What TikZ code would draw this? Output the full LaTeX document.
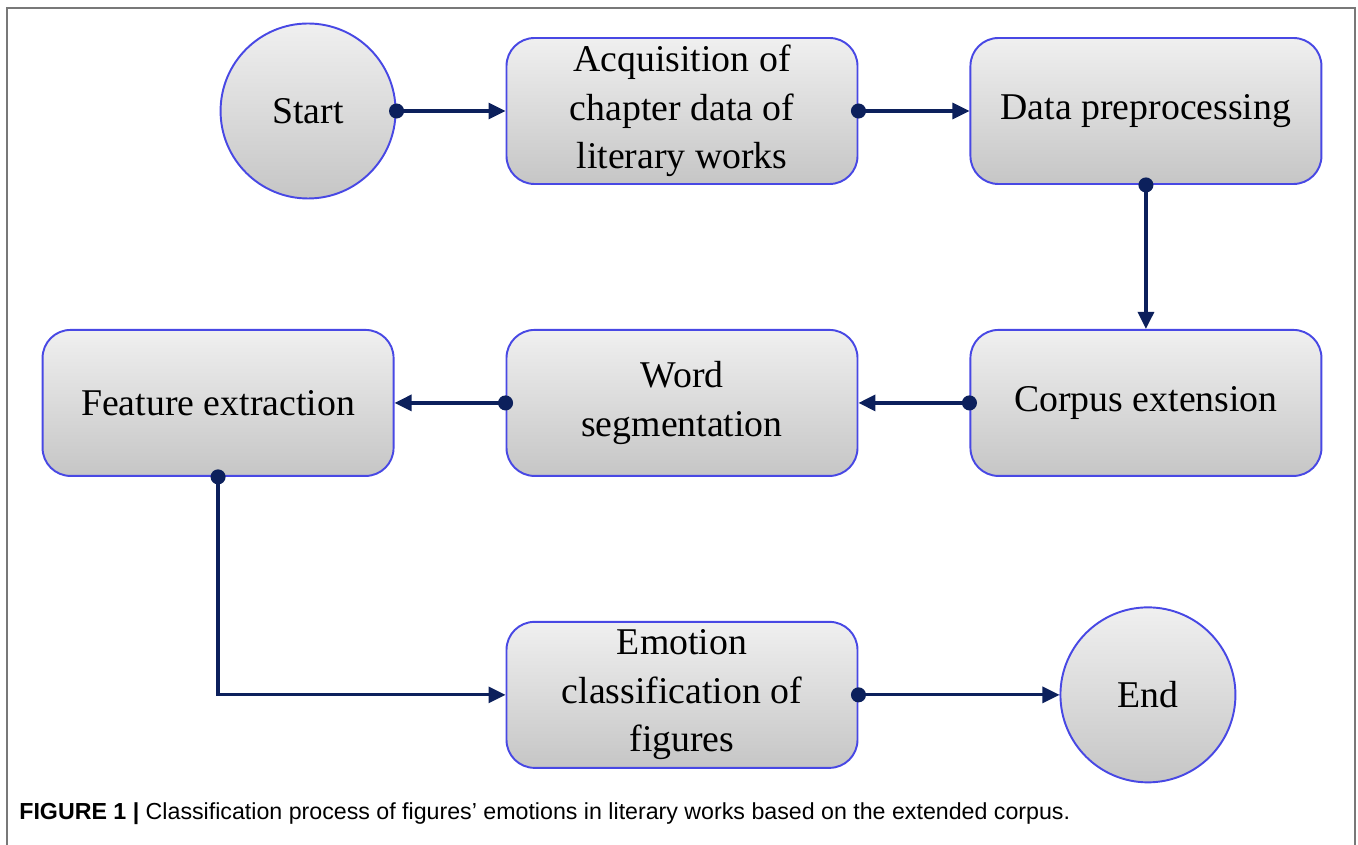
\documentclass[tikz,border=0pt]{standalone}
\usepackage{fontspec}
\setmainfont{Liberation Serif}
\newfontfamily\capfont{Liberation Sans}
\usepackage{xcolor}
\usepackage{tikz}
\usetikzlibrary{positioning, arrows.meta}

\definecolor{navyline}{RGB}{12,32,92}
\definecolor{boxblue}{RGB}{72,72,228}
\definecolor{framegray}{RGB}{120,120,120}

\begin{document}
\begin{tikzpicture}[
    node distance=2.22cm,
    box/.style={rectangle, draw=boxblue, line width=1.1pt, rounded corners=0.56cm, top color=gray!12, bottom color=gray!45, align=center, minimum width=7.02cm, minimum height=2.92cm, inner sep=2pt, font=\fontsize{21.5}{27.5}\selectfont},
    term/.style={circle, draw=boxblue, line width=1.1pt, top color=gray!12, bottom color=gray!45, minimum size=3.5cm, inner sep=0pt, font=\fontsize{21.5}{27.5}\selectfont},
    link/.style={draw=navyline, line width=1.8pt, {Circle[length=0.3cm]}-{Triangle[length=0.34cm, width=0.32cm]}, shorten <=-0.15cm}
]
\useasboundingbox (0,0) rectangle (27.16,-16.9);

% Frame
\draw[framegray, line width=1.2pt] (0.14,-16.9) -- (0.14,-0.16) -- (27.1,-0.16) -- (27.1,-16.9);

% Nodes
\node[box] (acq) at (13.64,-2.22) {Acquisition of\\chapter data of\\literary works};
\node[box] (prep) [right=of acq] {Data preprocessing};
\node[box] (corpus) [below=2.88cm of prep] {Corpus extension};
\node[box] (seg) [left=of corpus] {Word\\segmentation};
\node[box] (feat) [left=of seg] {Feature extraction};
\node[box] (emo) [below=2.88cm of seg] {Emotion\\classification of\\figures};
\node[term] (start) [left=2.18cm of acq] {Start};
\node[term] (end) [right=4.02cm of emo] {End};

% Arrows
\draw[link] (start.east) -- (acq.west);
\draw[link] (acq.east) -- (prep.west);
\draw[link] (prep.south) -- (corpus.north);
\draw[link] (corpus.west) -- (seg.east);
\draw[link] (seg.west) -- (feat.east);
\draw[link] (feat.south) |- (emo.west);
\draw[link] (emo.east) -- (end.west);

% Caption
\node[anchor=base west, inner sep=0pt, font=\capfont\fontsize{13.2}{16}\selectfont] (caption) at (0.38,-16.4)
    {\textbf{FIGURE 1 |} Classification process of figures’ emotions in literary works based on the extended corpus.};

\end{tikzpicture}
\end{document}
